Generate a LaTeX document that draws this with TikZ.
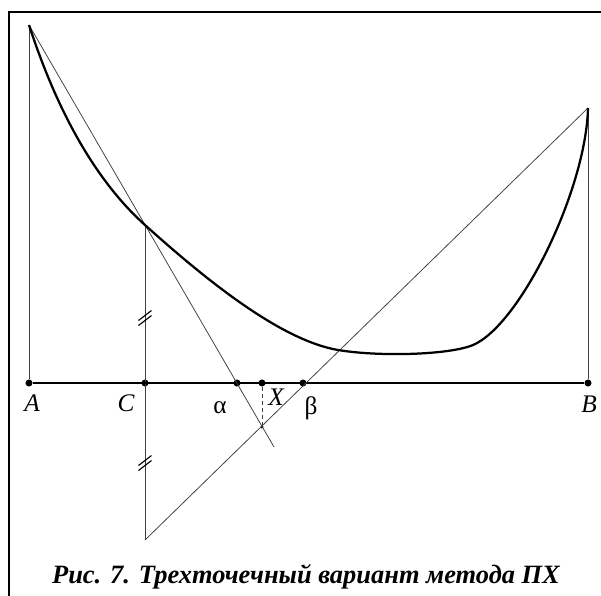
\documentclass[tikz,border=0pt]{standalone}
\usepackage{fontspec}
\setmainfont{Liberation Serif}
\usetikzlibrary{positioning}
\tikzset{
  frameline/.style={line width=1.1pt,draw=black},
  thinline/.style={line width=0.55pt,draw=black!75},
  axisline/.style={line width=0.9pt,draw=black},
  curveline/.style={line width=1.6pt,draw=black},
  hashmark/.style={line width=0.8pt,draw=black},
  dot/.style={circle,fill=black,inner sep=0pt,minimum size=5pt},
  smalldot/.style={circle,fill=black,inner sep=0pt,minimum size=2.2pt},
  lbl/.style={font=\fontsize{18}{20}\selectfont,inner sep=0pt},
  caption/.style={font=\fontsize{18.8}{22}\selectfont\bfseries\itshape,inner sep=0pt,anchor=base}
}

\begin{document}
\begin{tikzpicture}[x=0.025cm,y=-0.025cm]
  \useasboundingbox (0,0) rectangle (601,595);
  % frame
  \draw[frameline] (9,596) -- (9,12) -- (602,12);

  % points
  \coordinate (Atop) at (29,25);
  \coordinate (Ctop) at (145,225);
  \coordinate (Btop) at (588,108);
  \coordinate (Cbot) at (145,540);
  \coordinate (Aend) at (274,447);
  \coordinate (cross) at (262,427);
  \coordinate (low) at (338,350);
  \coordinate (rise) at (473,345);
  \coordinate (h1) at (145,318);
  \coordinate (h2) at (145,463);
  \node[dot] (A) at (29,383) {};
  \node[dot] (C) at (145,383) {};
  \node[dot] (al) at (237,383) {};
  \node[dot] (X) at (262,383) {};
  \node[dot] (be) at (303,383) {};
  \node[dot] (B) at (588,383) {};
  \node[smalldot] (P) at (cross) {};

  % verticals and axis
  \draw[thinline] (Atop) -- (A);
  \draw[thinline] (Btop) -- (B);
  \draw[thinline] (Ctop) -- (Cbot);
  \draw[axisline] (A) -- (B);

  % secants
  \draw[thinline] (Atop) -- (Aend);
  \draw[thinline] (Cbot) -- (Btop);
  \draw[thinline,dashed,dash pattern=on 3pt off 2pt] (X) -- (P);

  % equal segments
  \foreach \h in {h1,h2}
    \foreach \d in {-2.5,2.5}
      \draw[hashmark] ([shift={(-6.5,5+\d)}]\h) -- ([shift={(6.5,-5+\d)}]\h);

  % the function
  \draw[curveline] (Atop) .. controls (60,120) and (100,184.5) .. (Ctop)
    .. controls (205,279) and (280,340) .. (low)
    .. controls (380,357) and (450,354.8) .. (rise)
    .. controls (520,325) and (586,190) .. (Btop);

  % labels
  \node[lbl] at (32,403) {\itshape A};
  \node[lbl] at (126,403) {\itshape C};
  \node[lbl] at (220,408) {α};
  \node[lbl] at (276,397) {\itshape X};
  \node[lbl] at (311,408) {β};
  \node[lbl] at (589,404) {\itshape B};

  \node[caption] at (306,583) {Рис. 7. Трехточечный вариант метода ПХ};
\end{tikzpicture}
\end{document}
